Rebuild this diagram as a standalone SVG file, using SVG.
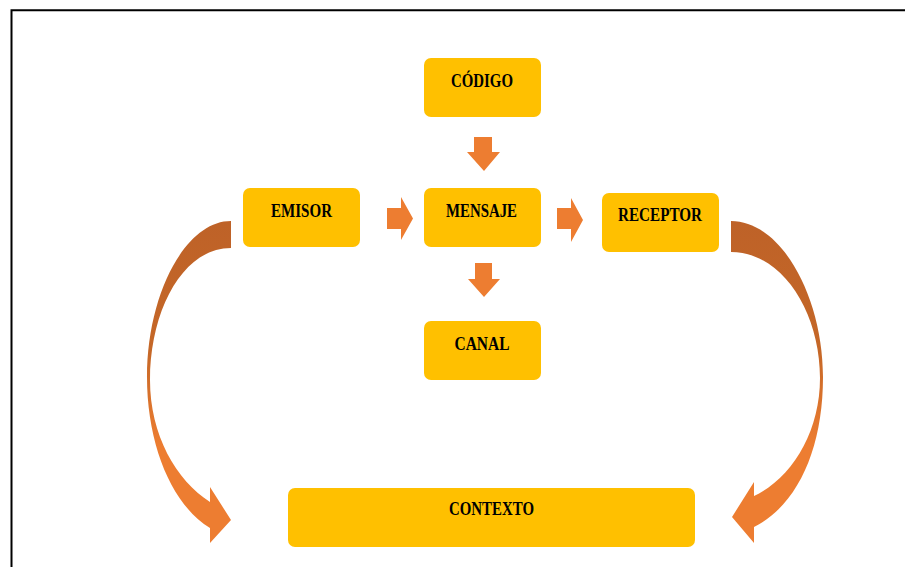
<svg xmlns="http://www.w3.org/2000/svg" width="905" height="567" viewBox="0 0 905 567">
<style>
.box{fill:#FFC000;}
.lbl{font-family:"Liberation Serif","Times New Roman",serif;font-weight:bold;font-size:18px;fill:#000;text-anchor:middle;}
.arr{fill:#ED7D31;}
</style>
<defs>
<linearGradient id="curveGrad" x1="0" y1="0" x2="0" y2="1">
<stop offset="0" stop-color="#BE6228"/>
<stop offset="0.4" stop-color="#C56727"/>
<stop offset="0.7" stop-color="#ED7D31"/>
<stop offset="1" stop-color="#ED7D31"/>
</linearGradient>
</defs>
<rect x="0" y="0" width="905" height="567" fill="#fff"/>
<path d="M11.5,567 V10.3 H905" fill="none" stroke="#000" stroke-width="2"/>

<g id="connectors">
<path class="arr" d="M474,137 H492 V152 H500 L484,171 L467,152 H474 Z"/>
<path class="arr" d="M475,263 H492 V279 H500 L484,297 L468,279 H475 Z"/>
<path class="arr" d="M387,208 H401 V197 L413,218.5 L401,240 V229 H387 Z"/>
<path class="arr" d="M557,208 H571 V198 L583,220 L571,242 V229 H557 Z"/>
<path fill="url(#curveGrad)" d="M231,221 C185,221 147,295 147,377 C147,445 172,505 210,528 L210,543 L231,520 L210,487 L210,502 C176,480 150,435 150,380 C150,310 183,248 231,248 Z"/>
<path fill="url(#curveGrad)" d="M731,221 C782,221 823,298 823,377 C823,448 798,505 754,527 L754,543 L732,517 L754,482 L754,496 C792,478 820,432 820,378 C820,312 782,252 731,252 Z"/>
</g>

<g id="codigo"><rect class="box" x="424" y="58" width="117" height="59" rx="7"/><text class="lbl" x="482" y="87" textLength="62" lengthAdjust="spacingAndGlyphs">CÓDIGO</text></g>
<g id="emisor"><rect class="box" x="243" y="188" width="117" height="59" rx="7"/><text class="lbl" x="301.5" y="216.5" textLength="61" lengthAdjust="spacingAndGlyphs">EMISOR</text></g>
<g id="mensaje"><rect class="box" x="424" y="188" width="117" height="59" rx="7"/><text class="lbl" x="481.5" y="216.5" textLength="71" lengthAdjust="spacingAndGlyphs">MENSAJE</text></g>
<g id="receptor"><rect class="box" x="602" y="193" width="117" height="59" rx="7"/><text class="lbl" x="660" y="221" textLength="84" lengthAdjust="spacingAndGlyphs">RECEPTOR</text></g>
<g id="canal"><rect class="box" x="424" y="321" width="117" height="59" rx="7"/><text class="lbl" x="482" y="350" textLength="55" lengthAdjust="spacingAndGlyphs">CANAL</text></g>
<g id="contexto"><rect class="box" x="288" y="488" width="407" height="59" rx="7"/><text class="lbl" x="491.5" y="515" textLength="85" lengthAdjust="spacingAndGlyphs">CONTEXTO</text></g>
</svg>
